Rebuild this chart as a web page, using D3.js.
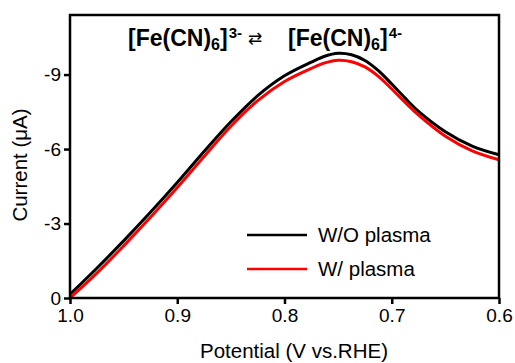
<!DOCTYPE html>
<html>
<head>
<meta charset="utf-8">
<script src="https://cdn.jsdelivr.net/npm/d3@7"></script>
<style>
  body { margin: 0; background: #fff; }
  svg { display: block; font-family: Arial, "Liberation Sans", sans-serif; }
</style>
</head>
<body>
<svg id="chart"></svg>
<script>
// data (potential in V vs RHE, current in uA)
const potentials = [1.00, 0.975, 0.95, 0.925, 0.90, 0.875, 0.85, 0.825, 0.80, 0.775, 0.7625, 0.75, 0.7375, 0.725, 0.7125, 0.70, 0.6875, 0.675, 0.65, 0.625, 0.60];
const woPlasma = [-0.15, -1.2, -2.3, -3.45, -4.65, -5.9, -7.1, -8.15, -8.95, -9.5, -9.74, -9.86, -9.8, -9.57, -9.16, -8.62, -8.05, -7.52, -6.7, -6.12, -5.77];
const wPlasma = [0.0, -1.0, -2.1, -3.25, -4.45, -5.7, -6.92, -7.95, -8.72, -9.25, -9.47, -9.58, -9.52, -9.31, -8.93, -8.42, -7.88, -7.37, -6.52, -5.93, -5.57];
const seriesNames = ["W/O plasma", "W/ plasma"];
const seriesColors = ["#000000", "#ff0000"];
const xTicks = [1.0, 0.9, 0.8, 0.7, 0.6];
const yTicks = [0, -3, -6, -9];

class CVChart {

    constructor(_config) {
        this.config = {
            parentElement: _config.parentElement,
            containerWidth: _config.containerWidth || 515,
            containerHeight: _config.containerHeight || 363,
            margin: { top: 15, bottom: 65, right: 16, left: 70 }
        }
        this.initVis();
    }

    initVis() {
        let vis = this;

        vis.width = vis.config.containerWidth - vis.config.margin.left - vis.config.margin.right;
        vis.height = vis.config.containerHeight - vis.config.margin.top - vis.config.margin.bottom;

        vis.svg = d3.select(vis.config.parentElement)
            .attr('width', vis.config.containerWidth)
            .attr('height', vis.config.containerHeight);

        vis.chart = vis.svg.append('g')
            .attr('transform', `translate(${vis.config.margin.left},${vis.config.margin.top})`);

        // scales - potential axis runs backwards
        vis.xScale = d3.scaleLinear()
            .domain([1.0, 0.6])
            .range([0, vis.width]);
        vis.yScale = d3.scaleLinear()
            .domain([0, -11.4])
            .range([vis.height, 0]);

        vis.xAxis = d3.axisBottom(vis.xScale)
            .tickValues(xTicks)
            .tickFormat(d3.format('.1f'))
            .tickSizeOuter(0)
            .tickSize(6)
            .tickPadding(5);
        vis.yAxis = d3.axisLeft(vis.yScale)
            .tickValues(yTicks)
            .tickFormat(d => String(d))
            .tickSizeOuter(0)
            .tickSize(6)
            .tickPadding(3);

        vis.renderVis();
    }

    renderVis() {
        let vis = this;

        let line = d3.line()
            .x((d, i) => vis.xScale(potentials[i]))
            .y(d => vis.yScale(d))
            .curve(d3.curveCatmullRom.alpha(0.5));

        // curves, black first so red sits on top
        [woPlasma, wPlasma].forEach((s, i) => {
            vis.chart.append('path')
                .datum(s)
                .attr('fill', 'none')
                .attr('stroke', seriesColors[i])
                .attr('stroke-width', 3)
                .attr('d', line);
        });

        // axes
        let xg = vis.chart.append('g')
            .attr('transform', `translate(0,${vis.height})`)
            .call(vis.xAxis);
        let yg = vis.chart.append('g')
            .call(vis.yAxis);
        [xg, yg].forEach(g => {
            g.select('.domain').remove();
            g.selectAll('line').attr('stroke', '#000').attr('stroke-width', 2.5);
            g.selectAll('text').attr('font-size', '19px').attr('fill', '#000')
                .attr('font-family', 'Arial, "Liberation Sans", sans-serif');
        });

        // frame
        vis.chart.append('rect')
            .attr('width', vis.width)
            .attr('height', vis.height)
            .attr('fill', 'none')
            .attr('stroke', '#000')
            .attr('stroke-width', 2.5);

        // axis titles
        vis.svg.append('text')
            .attr('x', 294)
            .attr('y', 358)
            .attr('text-anchor', 'middle')
            .attr('font-size', '20.5px')
            .text('Potential (V vs.RHE)');
        vis.svg.append('text')
            .attr('transform', 'translate(27,165) rotate(-90)')
            .attr('text-anchor', 'middle')
            .attr('font-size', '20.5px')
            .text('Current (\u03bcA)');

        // reaction title
        let t = vis.svg.append('text')
            .attr('x', 128)
            .attr('y', 46)
            .attr('font-weight', 'bold')
            .attr('font-size', '23px');
        t.append('tspan').text('[Fe(CN)');
        t.append('tspan').attr('font-size', '16px').attr('dy', 4).text('6');
        t.append('tspan').attr('dy', -4).text(']');
        t.append('tspan').attr('font-size', '15px').attr('dy', -8).attr('dx', 1).text('3-');
        t.append('tspan').attr('font-size', '17px').attr('font-weight', 'normal').attr('dy', 6).attr('dx', 6)
            .attr('font-family', '"DejaVu Sans", sans-serif').text('\u21c4');
        t.append('tspan').attr('x', 288).attr('dy', 2).text('[Fe(CN)');
        t.append('tspan').attr('font-size', '16px').attr('dy', 4).text('6');
        t.append('tspan').attr('dy', -4).text(']');
        t.append('tspan').attr('font-size', '15px').attr('dy', -8).attr('dx', 1).text('4-');

        // legend
        let legend = vis.svg.append('g');
        seriesNames.forEach((name, i) => {
            let y = 235 + i * 34;
            legend.append('line')
                .attr('x1', 247).attr('x2', 307)
                .attr('y1', y).attr('y2', y)
                .attr('stroke', seriesColors[i])
                .attr('stroke-width', 2.5);
            legend.append('text')
                .attr('x', 318)
                .attr('y', y + 7)
                .attr('font-size', '20.5px')
                .text(name);
        });
    }
}

new CVChart({ parentElement: '#chart' });
</script>
</body>
</html>
